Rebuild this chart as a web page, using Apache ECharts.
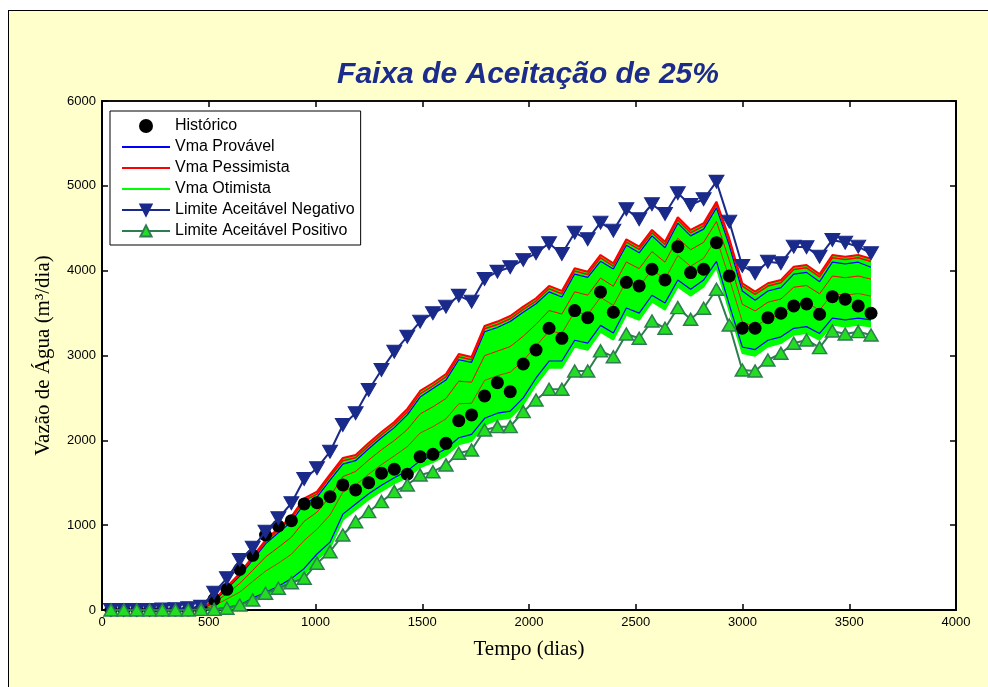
<!DOCTYPE html>
<html><head><meta charset="utf-8">
<script src="https://cdn.jsdelivr.net/npm/echarts@6/dist/echarts.min.js"></script>
<style>
html,body{margin:0;padding:0;background:#fff;width:988px;height:687px;overflow:hidden;}
#frame{position:absolute;left:8px;top:10px;width:1000px;height:700px;background:#FFFFCC;border:1px solid #000;}
#chart{position:absolute;left:0;top:0;width:988px;height:687px;}
</style></head><body>
<div id="frame"></div><div id="chart"></div>
<script>
// ---- data (days, m3/dia) ----
const days = [42,102,163,223,283,344,404,464,525,585,645,706,766,826,887,947,1007,1068,1128,1188,1249,1309,1369,1430,1490,1550,1611,1671,1731,1792,1852,1912,1973,2033,2094,2154,2214,2275,2335,2395,2456,2516,2576,2637,2697,2757,2818,2878,2938,2999,3059,3119,3180,3240,3300,3361,3421,3481,3542,3602];
const historico = [0,0,0,0,0,0,0,10,126,244,480,645,884,990,1053,1250,1265,1336,1474,1415,1501,1612,1659,1600,1807,1836,1965,2232,2299,2523,2680,2574,2900,3065,3321,3203,3529,3446,3749,3510,3863,3820,4017,3891,4283,3977,4017,4330,3938,3321,3321,3446,3498,3584,3608,3486,3694,3663,3584,3498];
const limiteNegativo = [0,0,0,0,5,10,20,40,204,374,590,734,923,1081,1258,1544,1671,1866,2181,2319,2594,2830,3045,3222,3399,3498,3576,3706,3635,3902,3989,4040,4127,4205,4323,4197,4448,4370,4566,4472,4724,4606,4783,4669,4913,4775,4842,5050,4578,4056,3970,4106,4088,4283,4276,4165,4362,4330,4283,4205];
const limitePositivo = [0,0,0,0,0,0,0,8,8,20,59,118,197,256,322,374,551,687,884,1041,1159,1277,1395,1474,1592,1630,1710,1847,1886,2122,2161,2161,2338,2476,2602,2602,2818,2818,3054,2986,3254,3203,3407,3321,3564,3427,3557,3781,3360,2829,2818,2947,3026,3144,3183,3093,3289,3254,3281,3242];
// simulated curves (upper edge = pessimista, lower edge = otimista)
const pessimistaTopo = [0,0,0,0,0,0,0,10,118,275,432,628,825,963,1100,1317,1395,1600,1792,1827,1969,2098,2216,2370,2582,2676,2782,3018,2983,3348,3400,3466,3576,3675,3820,3761,4029,3988,4185,4087,4370,4283,4480,4342,4630,4480,4559,4813,4380,3852,3753,3852,3890,4047,4067,3960,4185,4165,4185,4140];
const pessimista2 = [0,0,0,0,0,0,0,8,110,262,418,610,805,940,1075,1290,1365,1570,1760,1795,1935,2065,2185,2335,2548,2643,2748,2985,2950,3315,3366,3433,3543,3642,3787,3728,3996,3955,4152,4054,4337,4250,4447,4309,4597,4447,4526,4780,4347,3819,3720,3819,3857,4014,4034,3927,4152,4132,4152,4107];
const pessimistaMeio = [0,0,0,0,0,0,0,5,80,195,312,468,625,739,858,1046,1153,1338,1572,1633,1768,1889,1998,2127,2311,2395,2493,2698,2685,2998,3052,3105,3228,3368,3530,3489,3751,3711,3913,3816,4102,4024,4225,4100,4383,4247,4334,4579,4123,3604,3525,3628,3666,3805,3825,3727,3937,3917,3937,3900];
const pessimistaMeio2 = [0,0,0,0,0,0,0,3,50,129,211,337,458,552,657,820,952,1120,1389,1471,1601,1714,1817,1925,2086,2161,2253,2431,2437,2706,2762,2804,2939,3113,3288,3262,3519,3480,3686,3590,3879,3808,4013,3899,4178,4052,4146,4383,3910,3398,3336,3441,3480,3604,3624,3533,3731,3711,3731,3700];
const provavelAlto = [0,0,0,0,0,0,0,8,100,250,400,590,780,910,1040,1250,1330,1530,1720,1760,1900,2030,2150,2300,2510,2610,2710,2950,2920,3280,3330,3400,3510,3610,3750,3690,3960,3920,4110,4020,4300,4210,4410,4270,4560,4410,4490,4740,4300,3760,3650,3760,3800,3960,3980,3870,4100,4080,4100,4040];
const provavelBaixo = [0,0,0,0,0,0,0,0,10,30,60,140,210,280,370,490,660,800,1130,1250,1370,1470,1560,1640,1760,1820,1900,2030,2070,2260,2320,2345,2500,2735,2935,2935,3180,3145,3355,3265,3560,3500,3710,3620,3890,3780,3890,4110,3600,3100,3070,3180,3220,3320,3340,3260,3440,3420,3440,3420];
const otimistaBase = [0,0,0,0,0,0,0,0,0,10,30,98,157,216,295,413,590,727,1060,1180,1300,1400,1490,1560,1680,1740,1820,1950,1990,2181,2240,2263,2417,2653,2853,2853,3101,3065,3277,3183,3478,3419,3631,3537,3808,3702,3808,4032,3525,3026,2994,3104,3144,3242,3262,3183,3360,3340,3360,3340];
const xTicks = {min:0, max:4000, step:500};
const yTicks = {min:0, max:6000, step:1000};

const pairs = arr => days.map((d,i)=>[d, arr[i]]);
const SANS = 'Liberation Sans, Arial, sans-serif';
const SERIF = 'Liberation Serif, Times New Roman, serif';
const plain = v => String(v);

const chart = echarts.init(document.getElementById('chart'), null, {renderer:'canvas'});

function simLine(name, arr, color, width){
  return {type:'line', name, data:pairs(arr), symbol:'none', showSymbol:false,
    lineStyle:{color, width}, itemStyle:{color}, z:3, silent:true};
}
const noSym = {opacity:0};

const option = {
  animation:false,
  backgroundColor:'transparent',
  graphic:[{type:'text', x:528, y:75, style:{text:'Faixa de Aceitação de 25%',
    font:'italic bold 30px Liberation Sans', fill:'#1C2C8C', textAlign:'center', textVerticalAlign:'middle'}}],
  grid:{left:102, top:101, right:32, bottom:77, show:true, backgroundColor:'#fff', borderColor:'#000', borderWidth:1.5},
  legend:{orient:'vertical', left:110, top:111, backgroundColor:'#fff', borderColor:'#000', borderWidth:1,
    padding:[7,6,6,11], itemGap:5, itemWidth:48, itemHeight:14,
    textStyle:{fontFamily:SANS, fontSize:16, color:'#000'},
    data:[{name:'Histórico'},
          {name:'Vma Provável', itemStyle:noSym},
          {name:'Vma Pessimista', itemStyle:noSym},
          {name:'Vma Otimista', itemStyle:noSym},
          {name:'Limite Aceitável Negativo'},
          {name:'Limite Aceitável Positivo'}]},
  xAxis:[
    {type:'value', min:xTicks.min, max:xTicks.max, interval:xTicks.step, position:'bottom',
     axisLine:{show:true, onZero:false, lineStyle:{color:'#000', width:2}},
     axisTick:{show:true, inside:true, length:6, lineStyle:{color:'#000', width:1.5}},
     axisLabel:{color:'#000', fontFamily:SANS, fontSize:13, margin:6, formatter:plain},
     splitLine:{show:false},
     name:'Tempo (dias)', nameLocation:'middle', nameGap:29,
     nameTextStyle:{fontFamily:SERIF, fontSize:21, color:'#000'}},
    {type:'value', min:xTicks.min, max:xTicks.max, interval:xTicks.step, position:'top',
     axisLine:{show:true, onZero:false, lineStyle:{color:'#000', width:1.5}},
     axisTick:{show:true, inside:true, length:6, lineStyle:{color:'#000', width:1.5}},
     axisLabel:{show:false}, splitLine:{show:false}}
  ],
  yAxis:[
    {type:'value', min:yTicks.min, max:yTicks.max, interval:yTicks.step, position:'left',
     axisLine:{show:true, onZero:false, lineStyle:{color:'#000', width:2}},
     axisTick:{show:true, inside:true, length:6, lineStyle:{color:'#000', width:1.5}},
     axisLabel:{color:'#000', fontFamily:SANS, fontSize:13, margin:6, formatter:plain},
     splitLine:{show:false},
     name:'Vazão de Água (m³/dia)', nameLocation:'middle', nameGap:48, nameRotate:90,
     nameTextStyle:{fontFamily:SERIF, fontSize:21, color:'#000'}},
    {type:'value', min:yTicks.min, max:yTicks.max, interval:yTicks.step, position:'right',
     axisLine:{show:true, onZero:false, lineStyle:{color:'#000', width:2}},
     axisTick:{show:true, inside:true, length:6, lineStyle:{color:'#000', width:1.5}},
     axisLabel:{show:false}, splitLine:{show:false}}
  ],
  series:[
    {type:'custom', name:'faixa', silent:true, z:2, data:[[days[0],0]],
     renderItem:function(params, api){
       if (params.dataIndex !== 0) return null;
       const pts = [];
       for (let i=0;i<days.length;i++) pts.push(api.coord([days[i], pessimistaTopo[i]]));
       for (let i=days.length-1;i>=0;i--) pts.push(api.coord([days[i], otimistaBase[i]]));
       return {type:'polygon', shape:{points:pts}, style:{fill:'#00FF00', stroke:null}};
     }},
    simLine('Vma Otimista', otimistaBase, '#00FF00', 1.5),
    simLine('Vma Provável', provavelBaixo, '#0000FF', 1.2),
    simLine('Vma Pessimista', pessimistaMeio2, '#FF0000', 0.8),
    simLine('Vma Pessimista', pessimistaMeio, '#FF0000', 1),
    simLine('Vma Provável', provavelAlto, '#0000FF', 1.2),
    simLine('Vma Pessimista', pessimista2, '#FF0000', 1.5),
    simLine('Vma Pessimista', pessimistaTopo, '#FF0000', 2),
    {type:'scatter', name:'Histórico', data:pairs(historico), symbol:'circle', symbolSize:13,
     itemStyle:{color:'#000', opacity:1}, z:5},
    {type:'line', name:'Limite Aceitável Negativo', data:pairs(limiteNegativo), symbol:'triangle', symbolRotate:180,
     symbolSize:[15,13], showAllSymbol:true, lineStyle:{color:'#1A2A8A', width:2},
     itemStyle:{color:'#1A2A8A', borderColor:'#1A2A8A', borderWidth:1}, z:6},
    {type:'line', name:'Limite Aceitável Positivo', data:pairs(limitePositivo), symbol:'triangle',
     symbolSize:[14,12], showAllSymbol:true, lineStyle:{color:'#2E7D50', width:2},
     itemStyle:{color:'#22DD22', borderColor:'#2E7D50', borderWidth:1.5}, z:7}
  ]
};
chart.setOption(option);
</script></body></html>
